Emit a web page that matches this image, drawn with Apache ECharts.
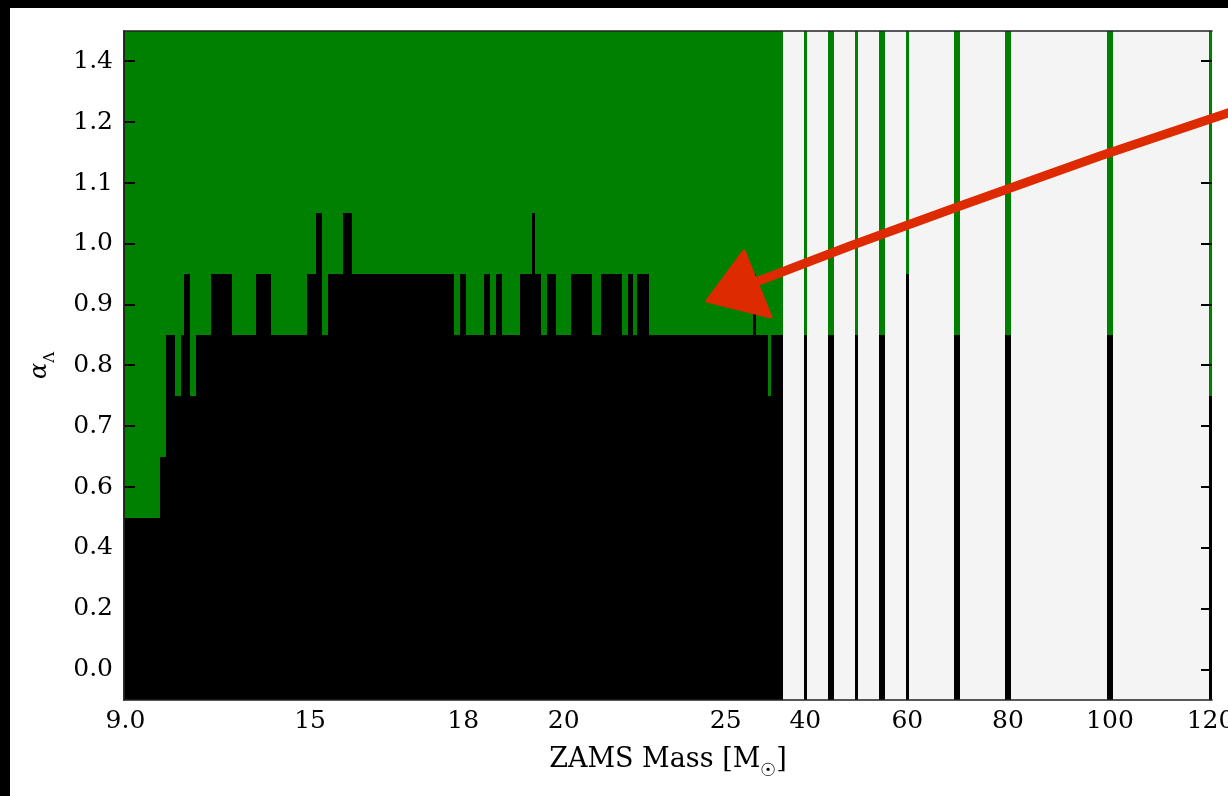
<!DOCTYPE html>
<html>
<head>
<meta charset="utf-8">
<title>alpha_Lambda vs ZAMS mass</title>
<script src="https://cdn.jsdelivr.net/npm/echarts@6/dist/echarts.min.js"></script>
<style>
  html, body { margin: 0; padding: 0; background: #fff; }
  #chart { width: 1228px; height: 796px; }
</style>
</head>
<body>
<div id="chart"></div>
<script>
// alpha_Lambda grid, bottom to top
const alphaLevels = ['0.0', '0.2', '0.4', '0.6', '0.7', '0.8', '0.9', '1.0', '1.1', '1.2', '1.4'];

// runs of models along the mass axis: run i covers model index [runEdges[i], runEdges[i+1])
const runEdges = [
  0, 24, 28, 34, 38, 40, 44, 48, 58, 72,
  88, 98, 122, 128, 132, 136, 146, 152, 220, 224,
  228, 240, 244, 248, 252, 264, 272, 274, 278, 282,
  288, 298, 312, 318, 332, 336, 339, 342, 350, 419,
  421, 429, 431, 439, 453, 455, 469, 473, 487, 489,
  503, 507, 521, 523, 553, 557, 587, 591, 655, 659,
  723, 725
];
// how many alpha levels (from the bottom) are black in each run; null = no model
const blackLevels = [
  3, 4, 6, 5, 6, 7, 5, 6, 7, 6,
  7, 6, 7, 8, 6, 7, 8, 7, 6, 7,
  6, 7, 6, 7, 6, 7, 8, 7, 6, 7,
  6, 7, 6, 7, 6, 7, 6, 7, 6, 7,
  6, 5, 6, null, 6, null, 6, null, 6, null,
  6, null, 7, null, 6, null, 6, null, 6, null,
  5
];

const massTickIndex = [1, 124, 226, 293, 401, 454, 522, 589, 657, 724];
const massTickLabel = ['9.0', '15', '18', '20', '25', '40', '60', '80', '100', '120'];
const modelCount = 725;

const FONT = "'DejaVu Serif', serif";
const GREEN = '#008000';
const BLACK = '#000000';
const GREY = '#f4f4f4';

const runs = [];
for (let i = 0; i < blackLevels.length; i++) {
  runs.push([runEdges[i], runEdges[i + 1], blackLevels[i]]);
}

const chart = echarts.init(document.getElementById('chart'));

chart.setOption({
  animation: false,
  backgroundColor: '#fff',
  grid: { left: 124, right: 16, top: 31, bottom: 96, outerBoundsMode: 'none' },
  xAxis: [
    {
      type: 'value',
      min: 0,
      max: modelCount,
      position: 'bottom',
      z: 10,
      splitLine: { show: false },
      axisLine: { show: true, lineStyle: { color: '#222', width: 1.5 } },
      axisTick: { show: false },
      axisLabel: {
        customValues: massTickIndex,
        formatter: v => massTickLabel[massTickIndex.indexOf(v)],
        fontFamily: FONT,
        fontSize: 25,
        color: '#000',
        margin: 9,
        alignMinLabel: 'center',
        alignMaxLabel: 'center',
        hideOverlap: false
      },
      name: '{t|ZAMS Mass [M}{s|☉}{t|]}',
      nameLocation: 'middle',
      nameGap: 46,
      nameTextStyle: {
        rich: {
          t: { fontFamily: FONT, fontSize: 27, color: '#000', verticalAlign: 'bottom', padding: [0, 0, 7, 0] },
          s: { fontFamily: FONT, fontSize: 18, color: '#000', verticalAlign: 'bottom' }
        }
      }
    },
    {
      type: 'value',
      min: 0,
      max: modelCount,
      position: 'top',
      z: 10,
      splitLine: { show: false },
      axisLine: { show: true, lineStyle: { color: '#222', width: 1.5 } },
      axisTick: { show: false },
      axisLabel: { show: false }
    }
  ],
  yAxis: [
    {
      type: 'category',
      data: alphaLevels,
      position: 'left',
      z: 10,
      axisLine: { show: true, lineStyle: { color: '#222', width: 1.5 } },
      axisTick: { show: false },
      axisLabel: { fontFamily: FONT, fontSize: 25, color: '#000', margin: 11 },
      name: '{a|α}{s|Λ}',
      nameLocation: 'middle',
      nameRotate: 90,
      nameGap: 66,
      nameTextStyle: {
        rich: {
          a: { fontFamily: FONT, fontSize: 24, fontStyle: 'italic', color: '#000', verticalAlign: 'bottom', padding: [0, 0, 6, 0] },
          s: { fontFamily: FONT, fontSize: 15, color: '#000', verticalAlign: 'bottom' }
        }
      }
    },
    {
      type: 'category',
      data: alphaLevels,
      position: 'right',
      z: 10,
      axisLine: { show: true, lineStyle: { color: '#222', width: 1.5 } },
      axisTick: { show: false },
      axisLabel: { show: false }
    }
  ],
  series: [
    {
      type: 'custom',
      xAxisIndex: 0,
      yAxisIndex: 0,
      z: 2,
      dimensions: [
        { name: 'from', type: 'number' },
        { name: 'to', type: 'number' },
        { name: 'black', type: 'number' }
      ],
      encode: { x: [0, 1], y: 2 },
      data: runs,
      renderItem: function (params, api) {
        const cs = params.coordSys;
        const x0 = Math.round(api.coord([api.value(0), 0])[0]);
        const x1 = Math.round(api.coord([api.value(1), 0])[0]);
        const top = cs.y;
        const bottom = cs.y + cs.height;
        const lv = api.value(2);
        if (lv == null || isNaN(lv)) {
          return {
            type: 'rect',
            shape: { x: x0, y: top, width: x1 - x0, height: bottom - top },
            style: { fill: GREY }
          };
        }
        const band = api.size([0, 1])[1];
        const yb = Math.round(api.coord([0, lv])[1] + band / 2);
        return {
          type: 'group',
          children: [
            { type: 'rect', shape: { x: x0, y: top, width: x1 - x0, height: yb - top }, style: { fill: GREEN } },
            { type: 'rect', shape: { x: x0, y: yb, width: x1 - x0, height: bottom - yb }, style: { fill: BLACK } }
          ]
        };
      }
    },
    {
      // inward tick marks on both y spines
      type: 'custom',
      xAxisIndex: 0,
      yAxisIndex: 0,
      z: 5,
      silent: true,
      data: alphaLevels.map(l => [0, l]),
      renderItem: function (params, api) {
        const cs = params.coordSys;
        const y = Math.round(api.coord([0, api.value(1)])[1]);
        const st = { stroke: '#000', lineWidth: 2 };
        return {
          type: 'group',
          children: [
            { type: 'line', shape: { x1: cs.x, y1: y, x2: cs.x + 11, y2: y }, style: st },
            { type: 'line', shape: { x1: cs.x + cs.width - 11, y1: y, x2: cs.x + cs.width, y2: y }, style: st }
          ]
        };
      }
    }
  ],
  graphic: [
    // page frame
    { type: 'rect', z: 100, shape: { x: 0, y: 0, width: 1228, height: 8 }, style: { fill: '#000' } },
    { type: 'rect', z: 100, shape: { x: 0, y: 0, width: 10, height: 796 }, style: { fill: '#000' } },
    // hand-drawn red arrow
    {
      type: 'polyline', z: 100,
      shape: { points: [[1234, 111], [1100, 156], [960, 206], [850, 246], [748, 285]] },
      style: { stroke: '#dd2a00', lineWidth: 9, lineCap: 'round', lineJoin: 'round', fill: null }
    },
    {
      type: 'polygon', z: 100,
      shape: { points: [[744, 251], [707, 301], [771, 317]] },
      style: { fill: '#dd2a00', stroke: '#dd2a00', lineWidth: 3, lineJoin: 'round' }
    }
  ]
});
</script>
</body>
</html>
